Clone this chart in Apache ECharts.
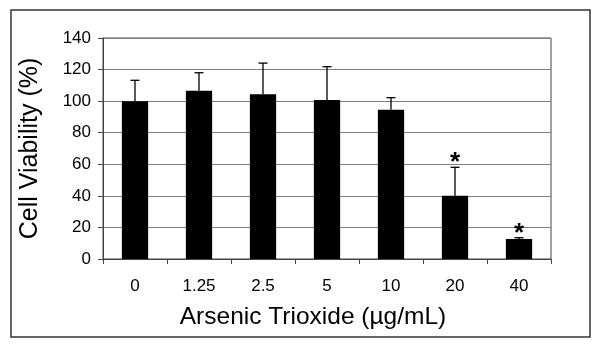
<!DOCTYPE html>
<html>
<head>
<meta charset="utf-8">
<script src="https://cdn.jsdelivr.net/npm/echarts@6/dist/echarts.min.js"></script>
<style>
  html, body { margin: 0; padding: 0; background: #fff; }
  #chart { width: 601px; height: 349px; }
</style>
</head>
<body>
<div id="chart"></div>
<script>
const doses = ["0", "1.25", "2.5", "5", "10", "20", "40"];
const viability = [100, 106.6, 104.3, 100.7, 94.6, 40.1, 12.7];
const errorTop = [113.2, 118, 124.1, 121.8, 102.2, 58.1, 13.5];
const significance = ["", "", "", "", "", "*", "*"];

var myChart = echarts.init(document.getElementById("chart"));
var font = "Liberation Sans, Arial, sans-serif";

var option = {
  animation: false,
  textStyle: { fontFamily: font },
  graphic: [
    {
      type: "rect",
      shape: { x: 11, y: 10, width: 579, height: 327 },
      style: { fill: "none", stroke: "#333", lineWidth: 1.5 },
    },
  ],
  grid: {
    left: 103,
    right: 50,
    top: 38,
    bottom: 90,
    show: true,
    borderColor: "#444",
    borderWidth: 1,
  },
  xAxis: {
    type: "category",
    data: doses,
    name: "Arsenic Trioxide (µg/mL)",
    nameLocation: "middle",
    nameGap: 46,
    nameTextStyle: { fontSize: 24.5, color: "#000", padding: [0, 28, 0, 0] },
    axisLine: { lineStyle: { color: "#444" } },
    axisTick: { show: true, length: 5, lineStyle: { color: "#444" } },
    axisLabel: { fontSize: 17, color: "#000", margin: 19 },
  },
  yAxis: {
    type: "value",
    min: 0,
    max: 140,
    interval: 20,
    name: "Cell Viability (%)",
    nameLocation: "middle",
    nameGap: 60,
    nameTextStyle: { fontSize: 25, color: "#000" },
    axisLine: { show: true, lineStyle: { color: "#444" } },
    axisTick: { show: true, length: 5, lineStyle: { color: "#444" } },
    axisLabel: { fontSize: 17, color: "#000", margin: 12 },
    splitLine: { lineStyle: { color: "#808080", width: 1 } },
  },
  series: [
    {
      type: "bar",
      data: viability,
      barWidth: "41%",
      itemStyle: { color: "#000" },
    },
    {
      type: "custom",
      data: doses.map((d, i) => [i, viability[i], errorTop[i]]),
      z: 3,
      renderItem: function (params, api) {
        var i = api.value(0);
        var base = api.coord([i, api.value(1)]);
        var top = api.coord([i, api.value(2)]);
        var cap = 4.5;
        var children = [
          {
            type: "line",
            shape: { x1: base[0], y1: base[1], x2: top[0], y2: top[1] },
            style: { stroke: "#000", lineWidth: 1.3 },
          },
          {
            type: "line",
            shape: { x1: top[0] - cap, y1: top[1], x2: top[0] + cap, y2: top[1] },
            style: { stroke: "#000", lineWidth: 1.3 },
          },
        ];
        var mark = significance[params.dataIndex];
        if (mark) {
          children.push({
            type: "text",
            style: {
              text: mark,
              x: top[0],
              y: top[1] + 9,
              align: "center",
              verticalAlign: "bottom",
              font: "bold 26px " + font,
              fill: "#000",
            },
          });
        }
        return { type: "group", children: children };
      },
    },
  ],
};

option && myChart.setOption(option);
</script>
</body>
</html>
